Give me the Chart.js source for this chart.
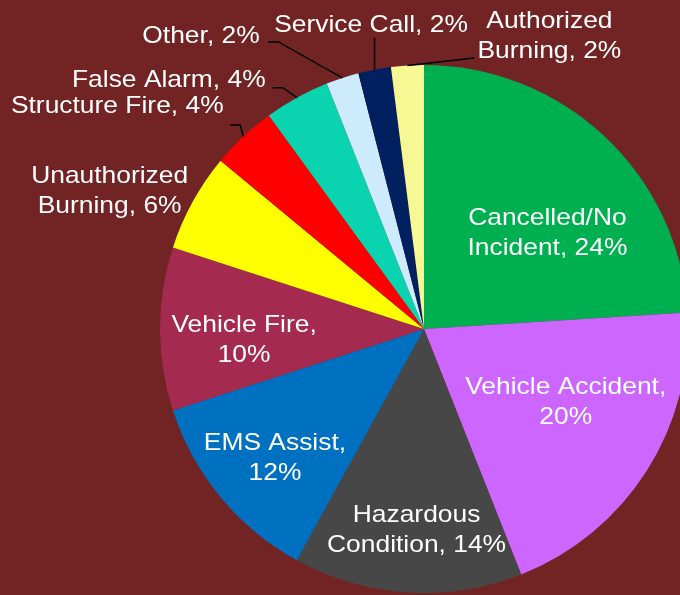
<!DOCTYPE html>
<html>
<head>
<meta charset="utf-8">
<script src="https://cdn.jsdelivr.net/npm/chart.js@4.4.1/dist/chart.umd.min.js"></script>
<style>
  html, body { margin: 0; padding: 0; background: #722323; overflow: hidden; }
  #wrap { width: 848px; height: 595px; }
</style>
</head>
<body>
<div id="wrap"><canvas id="pie" width="848" height="595"></canvas></div>
<script>
// data, clockwise from 12 o'clock
const categories = ['Cancelled/No Incident', 'Vehicle Accident', 'Hazardous Condition', 'EMS Assist',
  'Vehicle Fire', 'Unauthorized Burning', 'Structure Fire', 'False Alarm', 'Other', 'Service Call',
  'Authorized Burning'];
const shares = [24, 20, 14, 12, 10, 6, 4, 4, 2, 2, 2];
const labelLines = [
  ['Cancelled/No', 'Incident, 24%'],
  ['Vehicle Accident,', '20%'],
  ['Hazardous', 'Condition, 14%'],
  ['EMS Assist,', '12%'],
  ['Vehicle Fire,', '10%'],
  ['Unauthorized', 'Burning, 6%'],
  ['Structure Fire, 4%'],
  ['False Alarm, 4%'],
  ['Other, 2%'],
  ['Service Call, 2%'],
  ['Authorized', 'Burning, 2%'],
];
const sliceColors = ['#00b050', '#cc66ff', '#474747', '#0070c0', '#a52a4f', '#ffff00',
  '#ff0000', '#0ad4b0', '#cdebfd', '#002060', '#f6f993'];

// label placement: f = radius fraction of anchor on mid-angle, dx/dy = offset to first baseline
const placement = [
  { f: 0.6, dx: 15, dy: 11.5 },
  { f: 0.6, dx: 8, dy: -20 },
  { f: 0.6, dx: 2.5, dy: 35 },
  { f: 0.6, dx: -27, dy: 20 },
  { f: 0.6, dx: -21.5, dy: 3 },
  { f: 1, dx: -83, dy: -19 },
  { f: 1, dx: -126, dy: -23.5, leader: [[0, 0], [-3, -11.5], [-13, -11.5]] },
  { f: 1, dx: -128, dy: -10.7, leader: [[0, 0], [-14, -10], [-24, -10]] },
  { f: 1, dx: -141.4, dy: -35, leader: [[0, 0], [-64, -36], [-74, -36]] },
  { f: 1, dx: -3.5, dy: -37.7, leader: [[0, 0], [0, -32]] },
  { f: 1, dx: 142, dy: -37.5, leader: [[0, 0], [67, -7.5]] },
];

const sliceLabels = {
  id: 'sliceLabels',
  afterDatasetsDraw(chart) {
    const ctx = chart.ctx;
    const arcs = chart.getDatasetMeta(0).data;
    ctx.save();
    ctx.font = '24px "Liberation Sans", Arial, sans-serif';
    ctx.textAlign = 'center';
    ctx.textBaseline = 'alphabetic';
    arcs.forEach((arc, i) => {
      const { x, y, startAngle, endAngle, outerRadius } = arc.getProps(['x', 'y', 'startAngle', 'endAngle', 'outerRadius'], true);
      const mid = (startAngle + endAngle) / 2;
      const p = placement[i];
      const ax = x + Math.cos(mid) * outerRadius * p.f;
      const ay = y + Math.sin(mid) * outerRadius * p.f;
      if (p.leader) {
        ctx.strokeStyle = '#000';
        ctx.lineWidth = 1.5;
        ctx.beginPath();
        p.leader.forEach(([lx, ly], k) => {
          if (k === 0) ctx.moveTo(ax + lx, ay + ly);
          else ctx.lineTo(ax + lx, ay + ly);
        });
        ctx.stroke();
      }
      ctx.fillStyle = '#ffffff';
      labelLines[i].forEach((line, k) => {
        ctx.save();
        ctx.translate(ax + p.dx, ay + p.dy + k * 30);
        ctx.scale(1.1, 1);
        ctx.fillText(line, 0, 0);
        ctx.restore();
      });
    });
    ctx.restore();
  },
};

new Chart(document.getElementById('pie'), {
  type: 'pie',
  data: {
    labels: categories,
    datasets: [{
      data: shares,
      backgroundColor: sliceColors,
      borderWidth: 0,
      hoverOffset: 0,
    }],
  },
  options: {
    responsive: false,
    animation: false,
    events: [],
    layout: { padding: { left: 160, right: 160, top: 65, bottom: 2 } },
    plugins: {
      legend: { display: false },
      tooltip: { enabled: false },
    },
  },
  plugins: [sliceLabels],
});
</script>
</body>
</html>
